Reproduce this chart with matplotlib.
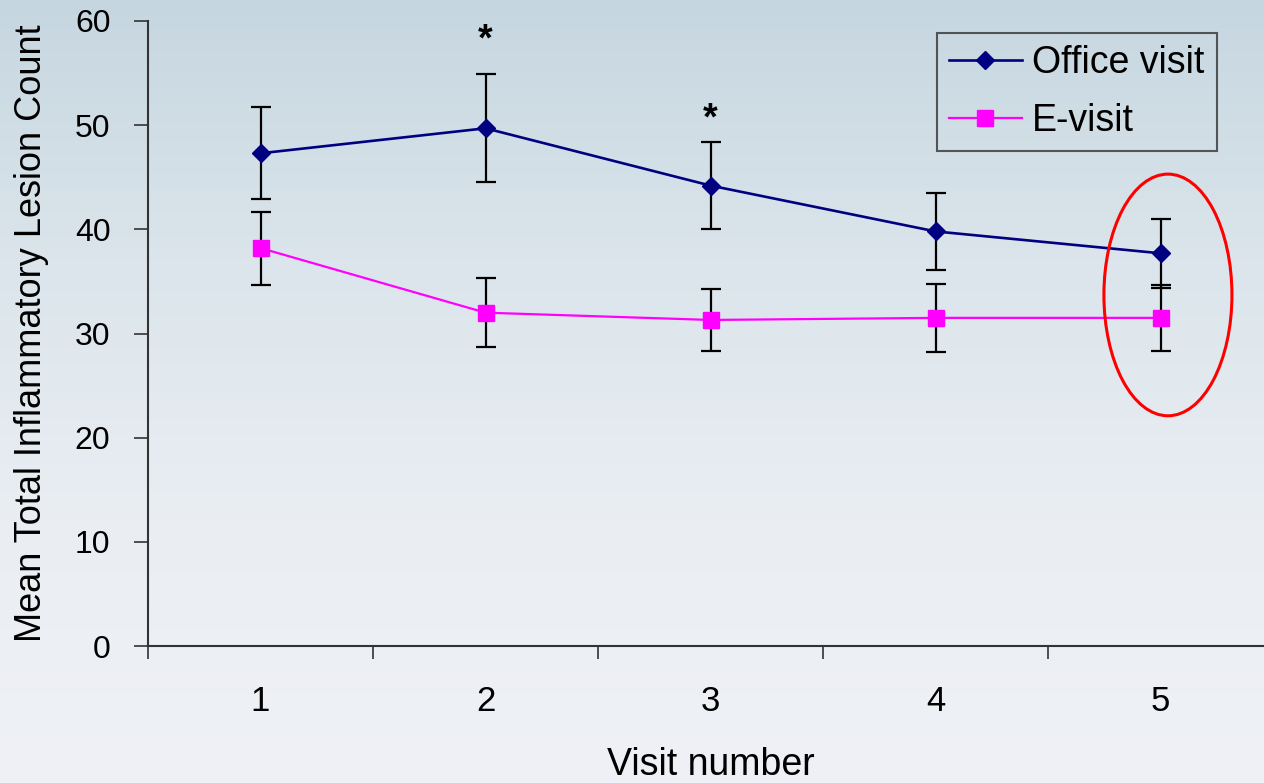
import numpy as np
import matplotlib
matplotlib.use("Agg")
import matplotlib.pyplot as plt
from matplotlib.patches import Ellipse
from matplotlib.colors import LinearSegmentedColormap

plt.rcParams['font.family'] = ['Liberation Sans', 'DejaVu Sans']

visits = [1, 2, 3, 4, 5]
visit_labels = ["1", "2", "3", "4", "5"]
office_mean = [47.3, 49.7, 44.2, 39.8, 37.7]
office_err = [4.4, 5.2, 4.2, 3.7, 3.3]
evisit_mean = [38.2, 32.0, 31.3, 31.5, 31.5]
evisit_err = [3.5, 3.3, 3.0, 3.3, 3.2]
star_visits = [2, 3]
star_heights = [58.1, 50.5]

fig = plt.figure(figsize=(12.64, 7.83), dpi=100)

# background gradient
bg = fig.add_axes([0, 0, 1, 1], zorder=-10)
cmap = LinearSegmentedColormap.from_list("bg", ["#c6d6e0", "#dbe5eb", "#eaeef3", "#eff1f6"])
grad = np.linspace(0, 1, 256).reshape(-1, 1)
bg.imshow(grad, aspect='auto', cmap=cmap, extent=[0, 1, 0, 1], origin='upper')
bg.axis('off')

ax = fig.add_axes([148/1264, 137/783, 1125/1264, 625/783])
ax.patch.set_alpha(0)

x = np.array(visits, dtype=float)
ax.errorbar(x, office_mean, yerr=office_err, fmt='none', ecolor='black',
            elinewidth=1.6, capsize=7, capthick=1.6, zorder=3)
ax.errorbar(x, evisit_mean, yerr=evisit_err, fmt='none', ecolor='black',
            elinewidth=1.6, capsize=7, capthick=1.6, zorder=3)
ax.plot(x, office_mean, color='#000080', lw=1.9, marker='D', ms=9,
        mfc='#000080', mec='#000080', label='Office visit', zorder=4)
ax.plot(x, evisit_mean, color='#ff00ff', lw=1.6, marker='s', ms=11,
        mfc='#ff00ff', mec='#ff00ff', label='E-visit', zorder=4)

for sv, sh in zip(star_visits, star_heights):
    ax.text(sv, sh, '*', ha='center', va='center', fontsize=27,
            fontweight='bold', color='black')

ell = Ellipse((5.033, 33.7), 0.569, 23.2, fill=False, edgecolor='#ff0000',
              lw=2.2, clip_on=False, zorder=5)
ax.add_patch(ell)

ax.set_xlim(0.5, 5.5)
ax.set_ylim(0, 60)
ax.set_yticks([0, 10, 20, 30, 40, 50, 60])
ax.set_xticks([0.5, 1.5, 2.5, 3.5, 4.5, 5.5])
ax.set_xticklabels([])
ax.set_xticks(x, minor=True)
ax.set_xticklabels(visit_labels, minor=True, fontsize=25)
ax.tick_params(axis='x', which='major', direction='out', length=9, width=1.2, color='#333333')
ax.tick_params(axis='x', which='minor', length=0, pad=28)
ax.tick_params(axis='y', direction='out', length=10, width=1.2, color='#333333',
               labelsize=23, pad=17)
for s in ['top', 'right']:
    ax.spines[s].set_visible(False)
for s in ['left', 'bottom']:
    ax.spines[s].set_color('#333333')
    ax.spines[s].set_linewidth(1.5)

ax.set_xlabel('Visit number', fontsize=27, labelpad=21)
ax.set_ylabel('Mean Total Inflammatory Lesion Count', fontsize=26)
ax.yaxis.set_label_coords(-0.088, 0.5)

leg = ax.legend(loc='upper left', bbox_to_anchor=(0.701, 0.981), fontsize=27,
                frameon=True, fancybox=False, handlelength=1.95, handletextpad=0.28,
                borderpad=0.32, labelspacing=0.6, borderaxespad=0)
leg.get_frame().set_edgecolor('#333333')
leg.get_frame().set_linewidth(1.5)
leg.get_frame().set_facecolor('none')

fig.savefig('out.png', dpi=100)
